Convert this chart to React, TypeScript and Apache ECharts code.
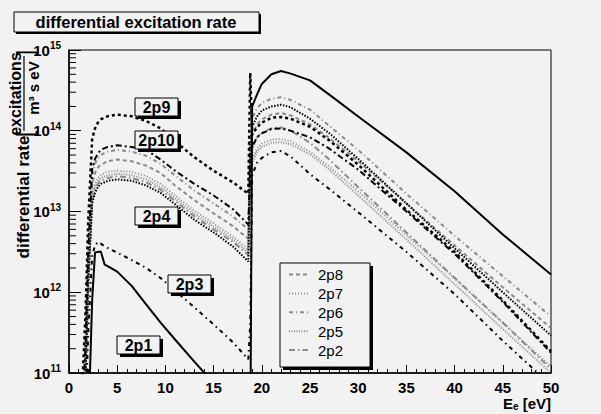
import React, { useEffect, useRef } from 'react';
import * as echarts from 'echarts';

// Electron energy grid [eV] shared by all series
const ENERGY = [1.4, 1.7, 2.0, 2.4, 2.7, 3.0, 3.3, 3.7, 4.0, 5.0, 6.5, 8.0, 9.5, 11.0, 13.0, 15.0, 17.0, 18.6,
  18.8, 19.0, 19.5, 20, 21, 22, 23, 25, 27, 30, 35, 40, 45, 50];

const RATE_2P1 = [1e9, 1e9, 2.0e10, 7.9e11, 3.1e12, 3.16e12, 3.2e12, 2.2e12, 2.1e12, 1.8e12, 1.2e12, 7.1e11, 4.2e11, 2.6e11, 1.38e11, 7.5e10, 3.6e10, 1.8e10,
  1.0e10, 2.0e14, 2.8e14, 3.8e14, 5.0e14, 5.5e14, 5.1e14, 4.2e14, 2.8e14, 1.5e14, 5.4e13, 1.78e13, 5.2e12, 1.66e12];
const RATE_2P3 = [1e9, 3.0e10, 3.2e11, 2.8e12, 3.8e12, 4.2e12, 4.0e12, 3.7e12, 3.55e12, 3.1e12, 2.5e12, 2.0e12, 1.5e12, 1.05e12, 6.5e11, 4.0e11, 2.4e11, 1.48e11,
  4.0e11, 2.8e13, 4.0e13, 4.6e13, 5.4e13, 5.6e13, 4.8e13, 2.9e13, 1.9e13, 9.8e12, 3.16e12, 9.5e11, 2.5e11, 7.1e10];
const RATE_2P4 = [1.26e10, 7.9e10, 1.26e12, 1.26e13, 1.7e13, 2.0e13, 2.2e13, 2.3e13, 2.4e13, 2.5e13, 2.4e13, 2.1e13, 1.7e13, 1.23e13, 7.9e12, 5.5e12, 3.7e12, 2.4e12,
  6.3e13, 1.12e14, 1.5e14, 1.78e14, 2.0e14, 2.1e14, 1.95e14, 1.41e14, 9.3e13, 4.5e13, 1.26e13, 3.5e12, 1.0e12, 2.9e11];
const RATE_2P9 = [7.9e10, 5.0e11, 7.9e12, 7.9e13, 1.07e14, 1.26e14, 1.38e14, 1.46e14, 1.51e14, 1.58e14, 1.51e14, 1.32e14, 1.07e14, 7.4e13, 4.7e13, 3.2e13, 2.3e13, 1.66e13,
  5.2e14, 8.9e13, 1.1e14, 1.26e14, 1.45e14, 1.48e14, 1.41e14, 1.12e14, 7.6e13, 3.8e13, 1.05e13, 3.16e12, 7.9e11, 1.86e11];
const RATE_2P10 = [3.3e10, 2.1e11, 3.3e12, 3.3e13, 4.5e13, 5.2e13, 5.8e13, 6.1e13, 6.3e13, 6.6e13, 6.3e13, 5.8e13, 4.4e13, 3.2e13, 2.2e13, 1.58e13, 1.07e13, 6.9e12,
  3.2e13, 6.3e13, 8.3e13, 9.3e13, 1.05e14, 1.07e14, 1.0e14, 8.3e13, 6.0e13, 3.3e13, 1.0e13, 3.0e12, 7.6e11, 1.78e11];
const RATE_2P8 = [2.2e10, 1.38e11, 2.2e12, 2.2e13, 3.0e13, 3.5e13, 3.8e13, 4.0e13, 4.2e13, 4.4e13, 4.2e13, 3.7e13, 3.0e13, 2.1e13, 1.38e13, 9.5e12, 6.6e12, 4.6e12,
  5.0e13, 8.9e13, 1.2e14, 1.38e14, 1.58e14, 1.66e14, 1.55e14, 1.2e14, 8.1e13, 4.2e13, 1.26e13, 3.8e12, 1.15e12, 3.6e11];
const RATE_2P7 = [1.6e10, 1.02e11, 1.62e12, 1.62e13, 2.2e13, 2.6e13, 2.8e13, 3.0e13, 3.1e13, 3.2e13, 3.1e13, 2.75e13, 2.2e13, 1.58e13, 1.02e13, 7.1e12, 4.9e12, 3.4e12,
  2.5e13, 4.5e13, 6.0e13, 6.9e13, 7.8e13, 7.9e13, 7.4e13, 5.5e13, 3.6e13, 1.78e13, 5.1e12, 1.48e12, 4.2e11, 1.2e11];
const RATE_2P6 = [2.9e10, 1.8e11, 2.9e12, 2.9e13, 3.9e13, 4.6e13, 5.0e13, 5.3e13, 5.5e13, 5.8e13, 5.5e13, 4.9e13, 3.9e13, 2.8e13, 1.82e13, 1.26e13, 8.7e12, 6.0e12,
  7.9e13, 1.41e14, 1.9e14, 2.2e14, 2.5e14, 2.6e14, 2.4e14, 1.82e14, 1.15e14, 5.8e13, 1.66e13, 5.0e12, 1.58e12, 5.0e11];
const RATE_2P5 = [1.5e10, 9.3e10, 1.48e12, 1.48e13, 2.0e13, 2.3e13, 2.6e13, 2.7e13, 2.8e13, 2.95e13, 2.8e13, 2.5e13, 2.0e13, 1.45e13, 9.3e12, 6.5e12, 4.5e12, 3.1e12,
  2.2e13, 4.0e13, 5.5e13, 6.3e13, 7.1e13, 7.2e13, 6.8e13, 5.1e13, 3.3e13, 1.58e13, 4.5e12, 1.26e12, 3.5e11, 1.0e11];
const RATE_2P2 = [1.4e10, 8.7e10, 1.38e12, 1.38e13, 1.86e13, 2.2e13, 2.4e13, 2.5e13, 2.6e13, 2.75e13, 2.6e13, 2.3e13, 1.86e13, 1.35e13, 8.7e12, 6.0e12, 4.2e12, 2.9e12,
  3.2e13, 6.0e13, 8.3e13, 9.5e13, 1.07e14, 1.1e14, 1.0e14, 7.1e13, 4.4e13, 2.0e13, 5.5e12, 1.51e12, 4.2e11, 1.12e11];

const LEGEND_NAMES = ['2p8', '2p7', '2p6', '2p5', '2p2'];
const Y_DECADES = [1e11, 1e12, 1e13, 1e14];
const Y_MINOR_MULT = [2, 3, 4, 5, 6, 7, 8, 9];

const FONT = '"Liberation Sans", Arial, Helvetica, sans-serif';
const BLACK = '#000000';
const GRAY = '#8a8a8a';
const BG = '#f2f2f2';

const SERIES_DEFS = [
  { name: '2p8', values: RATE_2P8, color: GRAY, dash: [4, 3], width: 2 },
  { name: '2p7', values: RATE_2P7, color: GRAY, dash: [1, 2], width: 2 },
  { name: '2p6', values: RATE_2P6, color: GRAY, dash: [4, 3, 1, 3], width: 2 },
  { name: '2p5', values: RATE_2P5, color: GRAY, dash: [1, 1.5], width: 2 },
  { name: '2p2', values: RATE_2P2, color: GRAY, dash: [6, 3, 1.5, 3], width: 2 },
  { name: '2p4', values: RATE_2P4, color: BLACK, dash: [1.5, 1.5], width: 2 },
  { name: '2p3', values: RATE_2P3, color: BLACK, dash: [4, 4, 1.5, 4], width: 2 },
  { name: '2p10', values: RATE_2P10, color: BLACK, dash: [6, 3, 2, 3], width: 2 },
  { name: '2p9', values: RATE_2P9, color: BLACK, dash: [3, 3], width: 2.5 },
  { name: '2p1', values: RATE_2P1, color: BLACK, dash: 'solid', width: 2 },
];

const TAGS = [
  { text: '2p9', x: 135, y: 98 },
  { text: '2p10', x: 135, y: 131 },
  { text: '2p4', x: 135, y: 207 },
  { text: '2p3', x: 168, y: 275 },
  { text: '2p1', x: 117, y: 336 },
];

// pieces of the rotated y-axis title: text, centre (cx, cy), font
const Y_TITLE_PARTS = [
  { text: 'differential rate', cx: 23, cy: 197, size: 17, weight: 'bold' },
  { text: '[', cx: 24, cy: 134, size: 22, weight: 'normal' },
  { text: 'excitations', cx: 15, cy: 94, size: 16, weight: 'bold' },
  { text: 'm\u00b3 s eV', cx: 33, cy: 88, size: 15, weight: 'bold' },
  { text: ']', cx: 24, cy: 53, size: 22, weight: 'normal' },
];

function txt(text: string, x: number, y: number, font: string, align = 'left', valign = 'middle', rotation = 0) {
  return {
    type: 'text', x, y, z: 100, rotation,
    style: { text, font, fill: BLACK, align, verticalAlign: valign, textAlign: align, textVerticalAlign: valign },
  };
}

function boxWithShadow(x: number, y: number, w: number, h: number, sh: number) {
  return [
    { type: 'rect', z: 99, shape: { x: x + sh, y: y + sh, width: w, height: h }, style: { fill: BLACK } },
    { type: 'rect', z: 99, shape: { x, y, width: w, height: h }, style: { fill: BG, stroke: BLACK, lineWidth: 1 } },
  ];
}

export default function App() {
  const ref = useRef<HTMLDivElement>(null);
  useEffect(() => {
    if (!ref.current) return;
    const chart = echarts.init(ref.current, undefined, { renderer: 'svg' });
    const minorVals: number[] = [];
    Y_DECADES.forEach((d) => Y_MINOR_MULT.forEach((m) => minorVals.push(m * d)));

    const graphics: any[] = [];
    graphics.push(...boxWithShadow(14, 12, 245, 20, 2));
    graphics.push(txt('differential excitation rate', 136, 22, `bold 16.5px ${FONT}`, 'center'));
    TAGS.forEach((t) => {
      graphics.push(...boxWithShadow(t.x, t.y, 43, 18, 3));
      graphics.push(txt(t.text, t.x + 21.5, t.y + 9.5, `bold 16px ${FONT}`, 'center'));
    });
    graphics.push({ type: 'rect', z: 90, shape: { x: 283, y: 266, width: 90, height: 104 }, style: { fill: BLACK } });
    graphics.push({ type: 'rect', z: 90, shape: { x: 280, y: 263, width: 90, height: 104 }, style: { fill: BG, stroke: BLACK, lineWidth: 1 } });
    graphics.push({
      type: 'text', x: 551, y: 403, z: 100,
      style: {
        text: '{b|E}{s|e}{b| [eV]}', align: 'right', verticalAlign: 'middle', textAlign: 'right', textVerticalAlign: 'middle',
        rich: {
          b: { fontFamily: FONT, fontWeight: 'bold', fontSize: 15, fill: BLACK },
          s: { fontFamily: FONT, fontWeight: 'bold', fontSize: 10, fill: BLACK, padding: [6, 0, 0, 0] },
        },
      },
    });
    // rotated y-axis title (reads bottom to top) with its fraction bar
    Y_TITLE_PARTS.forEach((p) => {
      graphics.push(txt(p.text, p.cx, p.cy, `${p.weight} ${p.size}px ${FONT}`, 'center', 'middle', Math.PI / 2));
    });
    graphics.push({ type: 'line', z: 100, shape: { x1: 24, y1: 56, x2: 24, y2: 131 }, style: { stroke: BLACK, lineWidth: 1.2 } });

    const lineSeries = SERIES_DEFS.map((s) => ({
      name: s.name,
      type: 'line',
      data: ENERGY.map((e, i) => [e, s.values[i]]),
      symbol: 'none',
      showSymbol: false,
      smooth: false,
      clip: true,
      color: s.color,
      lineStyle: { color: s.color, width: s.width, type: s.dash as any, cap: 'butt' },
      z: 3,
    }));

    chart.setOption({
      animation: false,
      backgroundColor: BG,
      textStyle: { fontFamily: FONT },
      grid: { left: 69, right: 50, top: 50, bottom: 41, show: true, borderColor: BLACK, borderWidth: 1, backgroundColor: 'transparent' },
      legend: {
        data: LEGEND_NAMES,
        orient: 'vertical',
        left: 283,
        top: 262,
        itemWidth: 19,
        itemHeight: 12,
        itemGap: 3.9,
        z: 95,
        selectedMode: false,
        itemStyle: { opacity: 0 },
        textStyle: { fontFamily: FONT, fontSize: 15, color: BLACK, padding: [0, 0, 0, 5] },
      },
      xAxis: {
        type: 'value', min: 0, max: 50, interval: 5,
        axisLine: { show: true, onZero: false, lineStyle: { color: BLACK, width: 1.5 } },
        axisTick: { show: true, inside: true, length: 8, lineStyle: { color: BLACK, width: 1 } },
        minorTick: { show: true, splitNumber: 5, length: 4, lineStyle: { color: BLACK, width: 1 } },
        splitLine: { show: false },
        minorSplitLine: { show: false },
        axisLabel: { fontFamily: FONT, fontWeight: 'bold', fontSize: 15, color: BLACK, margin: 7 },
      },
      yAxis: {
        type: 'log', logBase: 10, min: 1e11, max: 1e15,
        axisLine: { show: true, onZero: false, lineStyle: { color: BLACK, width: 1.5 } },
        axisTick: { show: true, inside: true, length: 12, lineStyle: { color: BLACK, width: 1 } },
        splitLine: { show: false },
        axisLabel: {
          margin: 8,
          formatter: (v: number) => `{b|10}{s|${Math.round(Math.log10(v))}}`,
          rich: {
            b: { fontFamily: FONT, fontWeight: 'bold', fontSize: 15, color: BLACK },
            s: { fontFamily: FONT, fontWeight: 'bold', fontSize: 10, color: BLACK, padding: [0, 0, 9, 0] },
          },
        },
      },
      graphic: graphics,
      series: [
        ...lineSeries,
        {
          type: 'custom',
          name: 'minorTicks',
          coordinateSystem: 'cartesian2d',
          silent: true,
          clip: false,
          z: 4,
          data: minorVals.map((v) => [0, v]),
          renderItem: (_p: any, api: any) => {
            const p = api.coord([0, api.value(1)]);
            return { type: 'line', shape: { x1: p[0], y1: p[1], x2: p[0] + 7, y2: p[1] }, style: { stroke: BLACK, lineWidth: 1 } };
          },
        },
      ],
    });
    return () => chart.dispose();
  }, []);
  return <div ref={ref} style={{ position: 'absolute', left: 0, top: 0, width: 601, height: 414 }} />;
}
